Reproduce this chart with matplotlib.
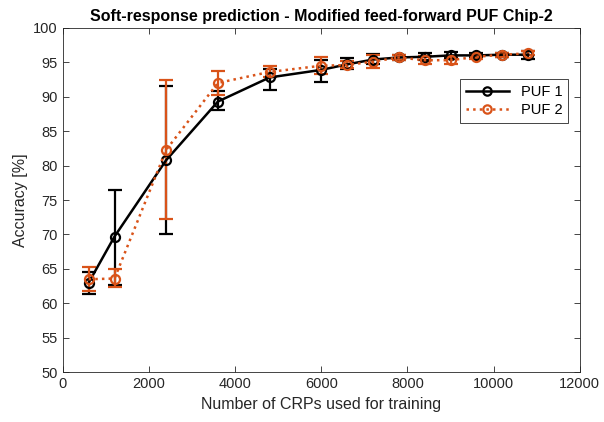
import matplotlib
matplotlib.use("Agg")
import matplotlib.pyplot as plt
from matplotlib.lines import Line2D

plt.rcParams["font.family"] = ["Liberation Sans", "DejaVu Sans"]

# Training set sizes and accuracies (mean, lower/upper bound of error bars)
n_crps = [600, 1200, 2400, 3600, 4800, 6000, 6600, 7200, 7800, 8400, 9000, 9600, 10200, 10800]

puf1_acc = [63.0, 69.7, 80.8, 89.3, 92.8, 93.9, 94.7, 95.4, 95.7, 95.8, 96.0, 96.0, 96.1, 96.1]
puf1_lo = [61.3, 62.7, 70.0, 88.0, 91.0, 92.2, 94.0, 94.8, 95.4, 95.3, 95.6, 95.7, 95.8, 95.5]
puf1_hi = [64.5, 76.5, 91.5, 90.8, 94.0, 95.3, 95.6, 96.2, 96.0, 96.3, 96.5, 96.3, 96.4, 96.6]

puf2_acc = [63.5, 63.6, 82.3, 92.0, 93.6, 94.5, 94.6, 95.1, 95.7, 95.3, 95.3, 95.8, 96.1, 96.3]
puf2_lo = [61.8, 62.3, 72.2, 90.3, 92.8, 93.3, 94.2, 94.2, 95.4, 94.8, 94.7, 95.5, 95.8, 96.0]
puf2_hi = [65.3, 65.0, 92.5, 93.7, 94.5, 95.7, 95.2, 96.0, 96.0, 95.9, 95.9, 96.1, 96.4, 96.7]

series = [
    ("PUF 1", puf1_acc, puf1_lo, puf1_hi, "black", "-"),
    ("PUF 2", puf2_acc, puf2_lo, puf2_hi, "#D95319", ":"),
]

fig = plt.figure(figsize=(6.04, 4.22), dpi=100)
ax = fig.add_axes([0.104, 0.118, 0.856, 0.816])

handles = []
for label, acc, lo, hi, color, ls in series:
    yerr = [[a - l for a, l in zip(acc, lo)], [h - a for a, h in zip(acc, hi)]]
    ax.errorbar(n_crps, acc, yerr=yerr, color=color, linestyle=ls, linewidth=1.8,
                marker="o", markersize=6.5, markerfacecolor="none",
                markeredgewidth=1.6, capsize=5, capthick=1.6, elinewidth=1.6)
    # legend entry shows line + marker only, no error bar
    handles.append(Line2D([0], [0], color=color, linestyle=ls, linewidth=1.8,
                          marker="o", markersize=6, markerfacecolor="none",
                          markeredgewidth=1.6, label=label))

ax.set_xlim(0, 12000)
ax.set_ylim(50, 100)
ax.set_xticks(range(0, 12001, 2000))
ax.set_yticks(range(50, 101, 5))
ax.tick_params(direction="in", top=True, right=True, labelsize=10.5,
               length=4, width=0.6, colors="#262626")
for s in ax.spines.values():
    s.set_linewidth(0.6)
    s.set_color("#262626")

ax.set_xlabel("Number of CRPs used for training", fontsize=11.5, color="#262626")
ax.set_ylabel("Accuracy [%]", fontsize=11.5, color="#262626")
ax.set_title("Soft-response prediction - Modified feed-forward PUF Chip-2",
             fontsize=11.5, fontweight="bold", pad=5)

leg = ax.legend(handles=handles, loc="upper right", bbox_to_anchor=(0.978, 0.852),
                fontsize=10.5, fancybox=False, framealpha=1, edgecolor="#262626",
                handlelength=3, borderpad=0.4, labelspacing=0.3,
                borderaxespad=0)
leg.get_frame().set_linewidth(0.6)

fig.savefig("out.png", dpi=100)
